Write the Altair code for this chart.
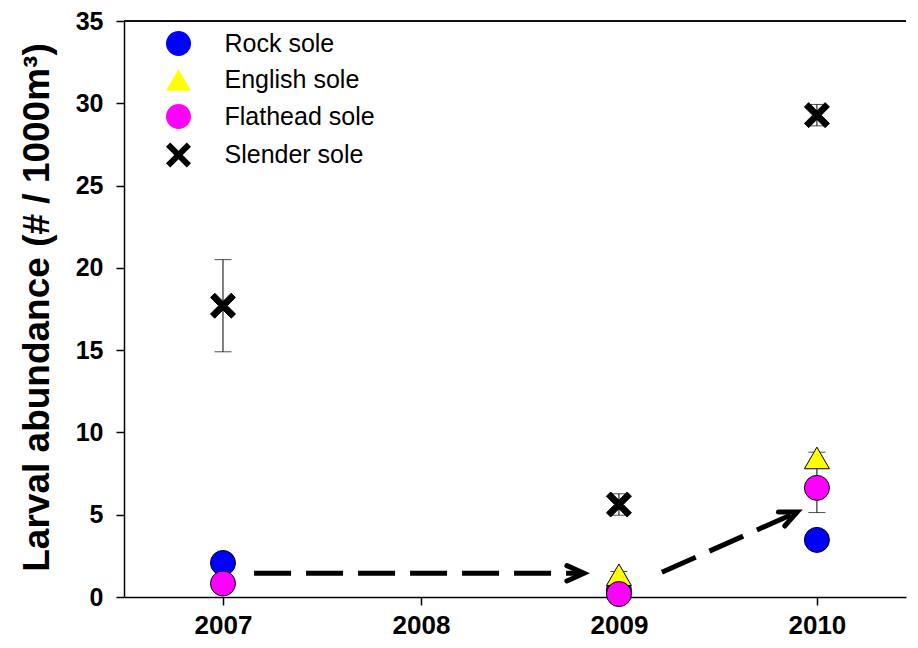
import altair as alt
import pandas as pd

# ---- data ----
years = [2007, 2009, 2010]
species = ["Rock sole", "English sole", "Flathead sole", "Slender sole"]
rock = [2.07, 0.4, 3.47]
rock_se = [0.15, 0.1, 0.3]
english = [None, 1.35, 8.45]
english_se = [None, 0.2, 0.35]
flathead = [0.82, 0.18, 6.63]
flathead_se = [0.15, 0.1, 1.5]
slender = [17.7, 5.62, 29.28]
slender_se = [2.8, 0.65, 0.65]

fills = ["#0000FF", "#FFFF00", "#FF00FF", "#000000"]
XPATH = ("M-1,-0.66L-0.66,-1L0,-0.34L0.66,-1L1,-0.66L0.34,0L1,0.66L0.66,1"
         "L0,0.34L-0.66,1L-1,0.66L-0.34,0Z")
shapes = ["circle", "triangle-up", "circle", XPATH]

# arrows (trend annotations)
arrow_x = [2007.157, 2009.217]
arrow_y = [1.44, 1.5]
arrow_x2 = [2008.823, 2009.9]
arrow_y2 = [1.44, 5.16]
arrow_angle = [0, 336]

x_ticks = [2007, 2008, 2009, 2010]
y_ticks = [0, 5, 10, 15, 20, 25, 30, 35]

rows = []
for name, vals, ses in [("Rock sole", rock, rock_se), ("English sole", english, english_se),
                        ("Flathead sole", flathead, flathead_se), ("Slender sole", slender, slender_se)]:
    for yr, v, s in zip(years, vals, ses):
        if v is None:
            continue
        rows.append({"year": yr, "species": name, "value": v, "lo": v - s, "hi": v + s})
df = pd.DataFrame(rows)

arrows = pd.DataFrame({"x": arrow_x, "y": arrow_y, "x2": arrow_x2, "y2": arrow_y2, "angle": arrow_angle})

FONT = "Liberation Sans"

xscale = alt.Scale(domain=[2006.5, 2010.45], nice=False, zero=False)
yscale = alt.Scale(domain=[0, 35], nice=False)

xaxis = alt.Axis(values=x_ticks, format="d", title=None, grid=False, tickSize=8,
                 labelFont=FONT, labelFontSize=26, labelFontWeight="bold", labelColor="black",
                 labelPadding=7, tickColor="black", domainColor="black", domainWidth=1.5, tickWidth=1.5)
yaxis = alt.Axis(values=y_ticks, title="Larval abundance (# / 1000m³)", grid=False, tickSize=8,
                 labelFont=FONT, labelFontSize=25, labelFontWeight="bold", labelColor="black",
                 labelPadding=13, tickColor="black", domainColor="black", domainWidth=1.5, tickWidth=1.5,
                 titleFont=FONT, titleFontSize=37, titleFontWeight="bold", titleColor="black",
                 titleX=-76, titleY=286, titleBaseline="alphabetic", titleAngle=270)

base = alt.Chart(df)

err = base.mark_rule(color="black", strokeWidth=1).encode(
    x=alt.X("year:Q", scale=xscale, axis=xaxis),
    y=alt.Y("lo:Q", scale=yscale, axis=yaxis),
    y2="hi:Q",
)
cap_lo = base.mark_tick(orient="horizontal", size=17, thickness=1, color="black").encode(
    x=alt.X("year:Q", scale=xscale), y=alt.Y("lo:Q", scale=yscale))
cap_hi = base.mark_tick(orient="horizontal", size=17, thickness=1, color="black").encode(
    x=alt.X("year:Q", scale=xscale), y=alt.Y("hi:Q", scale=yscale))

legend = alt.Legend(title=None, orient="none", legendX=41.5, legendY=9.5, padding=0,
                    symbolSize=625, symbolStrokeColor="black", symbolStrokeWidth=1,
                    labelFont=FONT, labelFontSize=25, labelColor="black", labelOffset=33,
                    rowPadding=8.5)

points = base.mark_point(filled=True, opacity=1, stroke="black", strokeWidth=1, size=625).encode(
    x=alt.X("year:Q", scale=xscale),
    y=alt.Y("value:Q", scale=yscale),
    fill=alt.Fill("species:N", scale=alt.Scale(domain=species, range=fills), legend=legend),
    shape=alt.Shape("species:N", scale=alt.Scale(domain=species, range=shapes), legend=legend),
)

arrow_lines = alt.Chart(arrows).mark_rule(color="black", strokeWidth=5, strokeDash=[37, 15],
                                          strokeCap="butt").encode(
    x=alt.X("x:Q", scale=xscale), y=alt.Y("y:Q", scale=yscale), x2="x2:Q", y2="y2:Q")

arrow_heads = alt.Chart(arrows).mark_point(shape="M-2,-0.9L0,0L-2,0.9", filled=False, stroke="black",
                                           strokeWidth=5, size=289, opacity=1, strokeJoin="miter",
                                           strokeCap="round").encode(
    x=alt.X("x2:Q", scale=xscale), y=alt.Y("y2:Q", scale=yscale), angle=alt.Angle("angle:Q", scale=None))

top_line = alt.Chart(arrows).mark_rule(color="black", strokeWidth=1.5).encode(
    y=alt.value(0), x=alt.value(0), x2=alt.value(782))

chart = alt.layer(err, cap_lo, cap_hi, points, arrow_lines, arrow_heads, top_line).properties(
    width=782, height=576,
    autosize=alt.AutoSizeParams(type="none"),
    padding={"left": 116, "top": 13, "right": 2, "bottom": 43},
    background="white",
).configure_view(stroke=None)

chart.save("out.html", embed_options={"renderer": "svg", "actions": False})
